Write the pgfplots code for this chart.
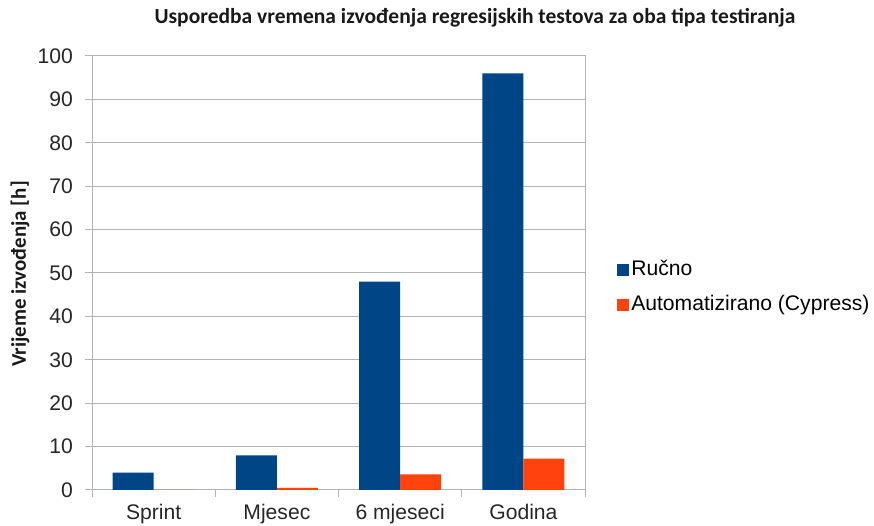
\documentclass[border=0pt]{standalone}
\usepackage{fontspec}
\setmainfont{Liberation Sans}
\newfontfamily\carlito{Carlito}
\usepackage{pgfplots}
\pgfplotsset{compat=1.18}
\definecolor{cblue}{HTML}{004586}
\definecolor{corange}{HTML}{FF420E}
\definecolor{cgrid}{HTML}{B3B3B3}
\begin{document}
\begin{tikzpicture}[x=1bp,y=1bp]
\useasboundingbox (0,0) rectangle (874,526);
\begin{axis}[
 at={(92bp,36bp)}, anchor=south west,
 scale only axis, width=493bp, height=434bp,
 xmin=-0.5, xmax=3.5, ymin=0, ymax=100,
 ybar=0pt, bar width=0.3333,
 xtick={0,1,2,3}, xticklabels={Sprint,Mjesec,6 mjeseci,Godina},
 ytick={0,10,...,100},
 minor xtick={-0.5,0.5,1.5,2.5,3.5},
 minor ytick={0,10,...,100},
 major tick length=0pt, minor tick length=7bp,
 tick align=outside, tick pos=left,
 tick style={cgrid, line width=1bp},
 axis line style={cgrid, line width=1bp},
 ymajorgrids, grid style={cgrid, line width=1bp},
 ticklabel style={inner sep=0pt, font=\fontsize{21.2}{24}\selectfont, text=black!85},
 /pgf/number format/assume math mode=true,
 yticklabel style={anchor=east, xshift=-19bp},
 xticklabel style={anchor=north, yshift=-14.5bp},
 legend image code/.code={\fill[#1] (0bp,-6bp) rectangle (12bp,6bp);},
 legend cell align=left,
 legend style={at={(1.065,0.4666)}, anchor=west, draw=none, fill=none, inner sep=0pt,
   row sep=12bp, column sep=0pt, font=\fontsize{21.2}{24}\selectfont,
   nodes={inner sep=2bp, text height=15bp, text depth=4bp}},
]
\addplot[fill=cblue, draw=none] coordinates {(0,4) (1,8) (2,48) (3,96)};
\addplot[fill=corange, draw=none] coordinates {(0,0) (1,0.5) (2,3.6) (3,7.2)};
\legend{Ručno, Automatizirano (Cypress)}
\end{axis}
\node[font=\carlito\bfseries\fontsize{21.6}{24}\selectfont, text=black!90] at (475,508) {Usporedba vremena izvođenja regresijskih testova za oba tipa testiranja};
\node[rotate=90, font=\carlito\bfseries\fontsize{21}{24}\selectfont, text=black!90] at (20,252) {Vrijeme izvođenja [h]};
\end{tikzpicture}
\end{document}
